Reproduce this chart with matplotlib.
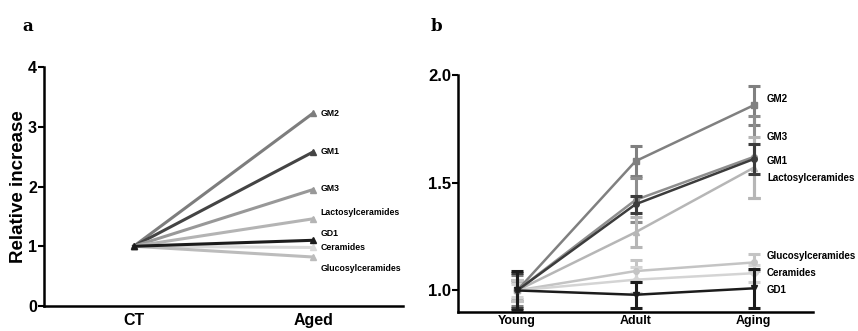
import numpy as np
import matplotlib
matplotlib.use("Agg")
import matplotlib.pyplot as plt

plt.rcParams['font.family'] = ['Liberation Sans', 'DejaVu Sans']
plt.rcParams['font.weight'] = 'bold'

# panel a data
groups_a = ["CT", "Aged"]
lipids_a = ["GM2", "GM1", "GM3", "Lactosylceramides", "GD1", "Ceramides", "Glucosylceramides"]
ct_a = [1.0, 1.0, 1.0, 1.0, 1.0, 1.0, 1.0]
aged_a = [3.23, 2.58, 1.95, 1.46, 1.10, 0.98, 0.82]
colors_a = ["#7d7d7d", "#444444", "#989898", "#b4b4b4", "#1c1c1c", "#d9d9d9", "#bcbcbc"]
label_y_a = [3.23, 2.58, 1.97, 1.57, 1.21, 0.98, 0.62]

# panel b data
groups_b = ["Young", "Adult", "Aging"]
lipids_b = ["GM2", "GM3", "GM1", "Lactosylceramides", "Glucosylceramides", "Ceramides", "GD1"]
means_b = [
    [1.0, 1.60, 1.86],
    [1.0, 1.42, 1.62],
    [1.0, 1.40, 1.61],
    [1.0, 1.27, 1.57],
    [1.0, 1.09, 1.13],
    [1.0, 1.05, 1.08],
    [1.0, 0.98, 1.01],
]
errs_b = [
    [0.07, 0.07, 0.09],
    [0.05, 0.10, 0.19],
    [0.08, 0.04, 0.07],
    [0.04, 0.07, 0.14],
    [0.05, 0.05, 0.04],
    [0.03, 0.06, 0.04],
    [0.09, 0.06, 0.09],
]
colors_b = ["#808080", "#8e8e8e", "#3c3c3c", "#b6b6b6", "#c4c4c4", "#d4d4d4", "#1c1c1c"]
markers_b = ["s", "o", "o", "^", "o", "D", "v"]
label_y_b = [1.89, 1.71, 1.60, 1.52, 1.16, 1.08, 1.00]

fig = plt.figure(figsize=(8.58, 3.31), dpi=100)

# ---- panel a
ax1 = fig.add_axes([0.0513, 0.0755, 0.4184, 0.722])
xa = np.arange(len(groups_a))
for i, name in enumerate(lipids_a):
    ax1.plot(xa, [ct_a[i], aged_a[i]], color=colors_a[i], lw=2.2, marker="^",
             ms=5, zorder=3 if name == "GD1" else 2)
    ax1.text(xa[-1] + 0.04, label_y_a[i], name, fontsize=6.3, fontweight='bold',
             va='center', ha='left')
ax1.set_xlim(-0.5, 1.5)
ax1.set_ylim(0, 4)
ax1.set_yticks([0, 1, 2, 3, 4])
ax1.set_xticks(xa)
ax1.set_xticklabels(groups_a, fontsize=11.5, fontweight='bold')
ax1.set_ylabel("Relative increase", fontsize=13.5, fontweight='bold', labelpad=1)
ax1.tick_params(axis='y', labelsize=11.5, width=1.5, length=4, pad=1)
ax1.tick_params(axis='x', length=0, pad=5)
for s in ["top", "right"]:
    ax1.spines[s].set_visible(False)
for s in ["left", "bottom"]:
    ax1.spines[s].set_linewidth(1.8)
fig.text(0.026, 0.905, "a", fontsize=12, fontweight='bold', family='DejaVu Serif')

# ---- panel b
ax2 = fig.add_axes([0.5338, 0.0574, 0.4138, 0.716])
xb = np.arange(len(groups_b))
for i, name in enumerate(lipids_b):
    ax2.errorbar(xb, means_b[i], yerr=errs_b[i], color=colors_b[i], lw=1.8,
                 marker=markers_b[i], ms=4, elinewidth=2.2, capsize=4, capthick=2.2,
                 zorder=3 if name in ("GD1", "GM1") else 2)
    ax2.text(xb[-1] + 0.11, label_y_b[i], name, fontsize=7, fontweight='bold',
             va='center', ha='left')
ax2.set_xlim(-0.5, 2.5)
ax2.set_ylim(0.9, 2.0)
ax2.set_yticks([1.0, 1.5, 2.0])
ax2.set_yticklabels(["1.0", "1.5", "2.0"])
ax2.set_xticks(xb)
ax2.set_xticklabels(groups_b, fontsize=9, fontweight='bold')
ax2.tick_params(axis='y', labelsize=12, width=1.5, length=4, pad=1)
ax2.tick_params(axis='x', length=0, pad=2)
for s in ["top", "right"]:
    ax2.spines[s].set_visible(False)
for s in ["left", "bottom"]:
    ax2.spines[s].set_linewidth(1.8)
fig.text(0.502, 0.905, "b", fontsize=12, fontweight='bold', family='DejaVu Serif')

fig.savefig("out.png", dpi=100)
